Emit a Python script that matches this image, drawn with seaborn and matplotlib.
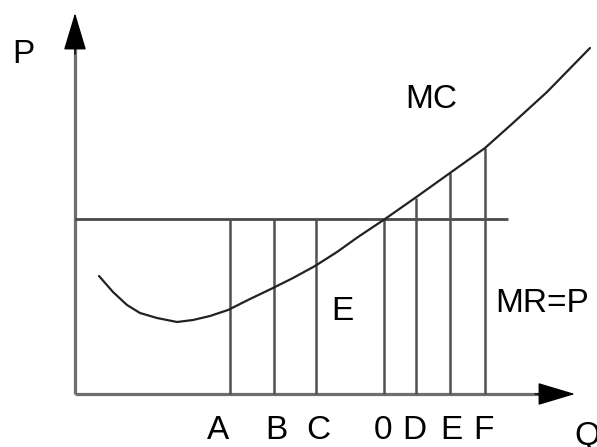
import matplotlib
matplotlib.use("Agg")
import matplotlib.pyplot as plt
import seaborn as sns
import pandas as pd

# MC curve (Q, P)
mc_q = [2.4, 3.8, 5.2, 6.5, 8.2, 10.2, 11.8, 13.5, 15.3, 17.5, 19.8, 21.8, 24.0,
        26.2, 28.3, 31.0, 34.0, 37.5, 41.0, 43.8, 47.2, 51.5]
mc_p = [11.8, 10.2, 8.9, 8.1, 7.6, 7.2, 7.4, 7.8, 8.4, 9.5, 10.6, 11.6, 12.8,
        14.2, 15.7, 17.5, 19.6, 22.1, 24.6, 27.1, 30.2, 34.6]

# price line MR=P
price = 17.5
price_end = 43.3

# quantities and the height of each vertical line
q_names = ["A", "B", "C", "0", "D", "E", "F"]
q_vals = [15.5, 19.9, 24.1, 30.9, 34.1, 37.5, 41.0]
q_tops = [17.5, 17.5, 17.5, 17.5, 19.6, 22.1, 24.6]
q_label_x = [14.3, 20.1, 24.3, 30.8, 33.9, 37.6, 40.8]

sns.set_style("white")
plt.rcParams["font.family"] = ["Liberation Sans", "DejaVu Sans"]
plt.rcParams["text.color"] = "black"

fig = plt.figure(figsize=(5.97, 4.47), dpi=100)
ax = fig.add_axes([0, 0, 1, 1])
ax.set_xlim(-7.5, 52.2)
ax.set_ylim(-5.3, 39.4)
ax.axis("off")

# axes with arrow heads
ax.plot([0, 47], [0, 0], color="#6e6e6e", lw=2.3, solid_capstyle="butt")
ax.plot([0, 0], [0, 35], color="#6e6e6e", lw=2.3, solid_capstyle="butt")
arrow = dict(arrowstyle="-|>,head_length=1.2,head_width=0.36", color="black",
             lw=1, mutation_scale=20, shrinkA=0, shrinkB=0)
ax.annotate("", xy=(50.0, 0), xytext=(46.0, 0), arrowprops=arrow)
ax.annotate("", xy=(0, 38.1), xytext=(0, 34.0), arrowprops=arrow)

# price line
ax.plot([0, price_end], [price, price], color="#4a4a4a", lw=2, solid_capstyle="butt")

# vertical lines
for q, top in zip(q_vals, q_tops):
    ax.plot([q, q], [0, top], color="#505050", lw=1.8, solid_capstyle="butt")

# MC curve
df = pd.DataFrame({"Q": mc_q, "P": mc_p})
sns.lineplot(data=df, x="Q", y="P", ax=ax, color="#222222", lw=1.6, sort=False)
ax.set_xlabel("")
ax.set_ylabel("")

fs = 24
for name, x in zip(q_names, q_label_x):
    ax.text(x, -4.5, name, fontsize=fs, ha="center", va="baseline")
ax.text(-5.2, 33.1, "P", fontsize=fs, ha="center", va="baseline")
ax.text(51.2, -5.1, "Q", fontsize=fs, ha="center", va="baseline")
ax.text(35.6, 28.6, "MC", fontsize=fs, ha="center", va="baseline")
ax.text(26.7, 7.4, "E", fontsize=fs, ha="center", va="baseline")
ax.text(46.7, 8.2, "MR=P", fontsize=fs, ha="center", va="baseline")

fig.savefig("out.png", dpi=100)
